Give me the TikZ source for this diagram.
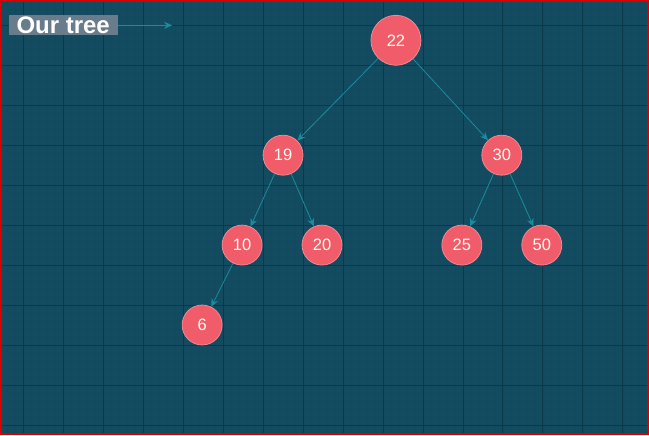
\documentclass[tikz,border=0pt]{standalone}
\usepackage{fontspec}
\setmainfont{Liberation Sans}
\usetikzlibrary{arrows.meta,positioning,backgrounds}

\definecolor{bgteal}{HTML}{134C60}
\definecolor{gridminor}{HTML}{124A5D}
\definecolor{gridmajor}{HTML}{0B3949}
\definecolor{nodered}{HTML}{F05C69}
\definecolor{noderim}{HTML}{F38890}
\definecolor{edgeteal}{HTML}{1B8C9F}
\definecolor{labelgrey}{HTML}{687C8C}

\begin{document}
\begin{tikzpicture}[
    x=1pt, y=-1pt,
    key/.style={circle, draw=noderim, line width=0.8pt, fill=nodered, text=white!95!yellow, minimum size=40pt, inner sep=0pt, font=\fontsize{16.5}{16.5}\selectfont},
    rootkey/.style={key, minimum size=50pt},
    link/.style={draw=edgeteal, line width=0.8pt, -{Stealth[length=8pt,width=7pt]}},
    caption/.style={fill=labelgrey, text=white, font=\bfseries\fontsize{24}{24}\selectfont, inner xsep=8pt, inner ysep=0pt, minimum height=20pt}
]

    % Fond et grille
    \fill[bgteal] (0,0) rectangle (649,435);
    \foreach \x in {7,15,...,647} \draw[gridminor, line width=0.25pt] (\x,0) -- (\x,435);
    \foreach \y in {1,9,...,433} \draw[gridminor, line width=0.25pt] (0,\y) -- (649,\y);
    \foreach \x in {23,63,...,623} \draw[gridmajor, line width=0.7pt] (\x,0) -- (\x,435);
    \foreach \y in {25,65,...,425} \draw[gridmajor, line width=0.7pt] (0,\y) -- (649,\y);
    \draw[red!85!black, line width=1.5pt] (0.75,0.75) rectangle (648.25,434.25);

    % Titre
    \node[caption, anchor=west] (title) at (8,25) {Our tree};
    \coordinate (titleend) at (172,25);
    \draw[link, line width=0.6pt] (title) -- (titleend);

    % Noeuds
    \node[rootkey] (n22) at (396,40) {22};
    \node[key] (n19) at (283,155) {19};
    \node[key] (n30) at (502,155) {30};
    \node[key] (n10) at (242,245) {10};
    \node[key] (n20) at (322,245) {20};
    \node[key] (n25) at (462,245) {25};
    \node[key] (n50) at (542,245) {50};
    \node[key] (n6) at (202,325) {6};

    % Aretes
    \draw[link] (n22) -- (n19);
    \draw[link] (n22) -- (n30);
    \draw[link] (n19) -- (n10);
    \draw[link] (n19) -- (n20);
    \draw[link] (n30) -- (n25);
    \draw[link] (n30) -- (n50);
    \draw[link] (n10) -- (n6);

\end{tikzpicture}
\end{document}
